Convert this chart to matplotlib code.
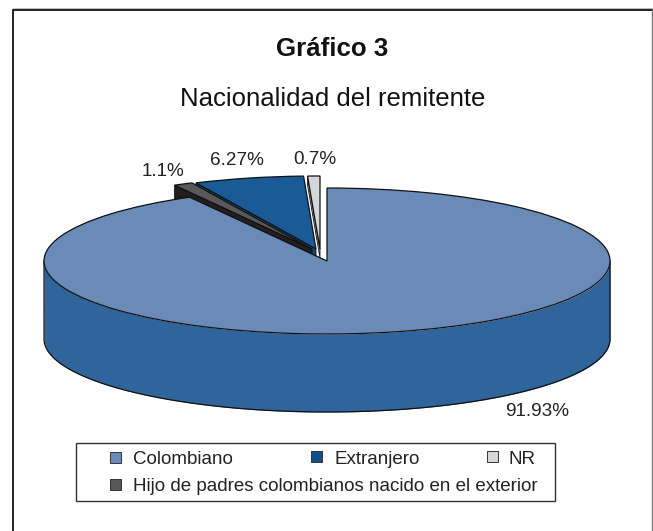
import numpy as np
import matplotlib
matplotlib.use("Agg")
import matplotlib.pyplot as plt
from matplotlib.patches import Rectangle, Polygon

plt.rcParams['font.family'] = ['Liberation Sans', 'DejaVu Sans']

# data (clockwise from 12 o'clock)
categories = ['Colombiano', 'Hijo de padres colombianos nacido en el exterior', 'Extranjero', 'NR']
values = [91.93, 1.1, 6.27, 0.7]
pct_labels = ['91.93%', '1.1%', '6.27%', '0.7%']
title = 'Gráfico 3'
subtitle = 'Nacionalidad del remitente'

# style
top_colors = ['#6a8ab8', '#58585a', '#1a5a96', '#d4d6d8']
wall_colors = ['#30659b', '#231f20', '#14487a', '#a8aaac']
legend_colors = ['#6a8ab8', '#58585a', '#0f4f8c', '#d4d6d8']
W, H = 653, 531
CX, CY, RX, RY, DEPTH = 327, 261, 283, 73, 78
offsets_px = [(0, 0), (-15, 12), (-11, 12), (-7, 12)]
wall_px = [0, 78, 78, 9]
label_px = [(537.5, 412), (163, 171), (237, 160.5), (315, 159.5)]

fig = plt.figure(figsize=(W / 100, H / 100), dpi=100, facecolor='white')
ax = fig.add_axes([0, 0, 1, 1])
wedges, _ = ax.pie(values, startangle=90, counterclock=False, colors=top_colors,
                   wedgeprops=dict(edgecolor='#111111', linewidth=0.9))
ax.set_aspect('auto')
ax.set_xlim(-CX / RX, (W - CX) / RX)
ax.set_ylim(-(H - CY) / RY, CY / RY)
ax.axis('off')

dy = DEPTH / RY

# outer wall of the main slice
t = np.radians(np.linspace(180, 360, 200))
xs = np.cos(t)
ys = np.sin(t)
ax.fill_between(xs, ys, ys - dy, color=wall_colors[0], zorder=1, linewidth=0)
ax.plot(np.r_[-1, xs, 1], np.r_[0, ys - dy, 0], color='#111111', lw=0.9, zorder=1.1)

# draw order: NR, Extranjero, Hijo, main top
order = [3, 2, 1, 0]
for z, i in enumerate(order):
    w = wedges[i]
    ox, oy = offsets_px[i][0] / RX, offsets_px[i][1] / RY
    w.set_center((ox, oy))
    w.set_zorder(2 + z + 0.5)
    if i != 0:
        a = np.radians(w.theta2)  # left cut edge
        px, py = ox + np.cos(a), oy + np.sin(a)
        d = wall_px[i] / RY
        ax.add_patch(Polygon([(ox, oy), (px, py), (px, py - d), (ox, oy - d)],
                             closed=True, facecolor=wall_colors[i], edgecolor='#111111',
                             linewidth=0.6, zorder=2 + z))

# overlay in pixel coordinates
ov = fig.add_axes([0, 0, 1, 1], facecolor='none')
ov.set_xlim(0, W)
ov.set_ylim(H, 0)
ov.axis('off')
# page frame: open at the bottom, right side lighter
ov.plot([12.5, 12.5, 652], [H, 9.5, 9.5], color='black', lw=1.2, solid_joinstyle='miter')
ov.plot([12.5, 652], [8, 8], color='#bbbbbb', lw=0.7)
ov.plot([652, 652], [9.5, H], color='#777777', lw=1.0)

ov.text(332, 49.5, title, ha='center', va='center', fontsize=18.6, fontweight='bold', color='#111111')
ov.text(333, 99, subtitle, ha='center', va='center', fontsize=18.5, color='#111111')
for lab, (x, y) in zip(pct_labels, label_px):
    ov.text(x, y, lab, ha='center', va='center', fontsize=13.6, color='#222222')

# legend
ov.add_patch(Rectangle((76, 443), 478.5, 57.5, facecolor='white', edgecolor='#333333', linewidth=1.0))
leg = [(0, 110, 457, 133), (2, 311, 456, 334), (3, 487, 456, 509), (1, 110, 484, 133)]
for i, x, y, tx in leg:
    ov.add_patch(Rectangle((x, y - 5.5), 11, 11, facecolor=legend_colors[i], edgecolor='#333333', linewidth=0.7))
    ov.text(tx, 460 if y < 470 else 486.5, categories[i], ha='left', va='center', fontsize=13.5, color='#222222')

fig.savefig('out.png', dpi=100)
